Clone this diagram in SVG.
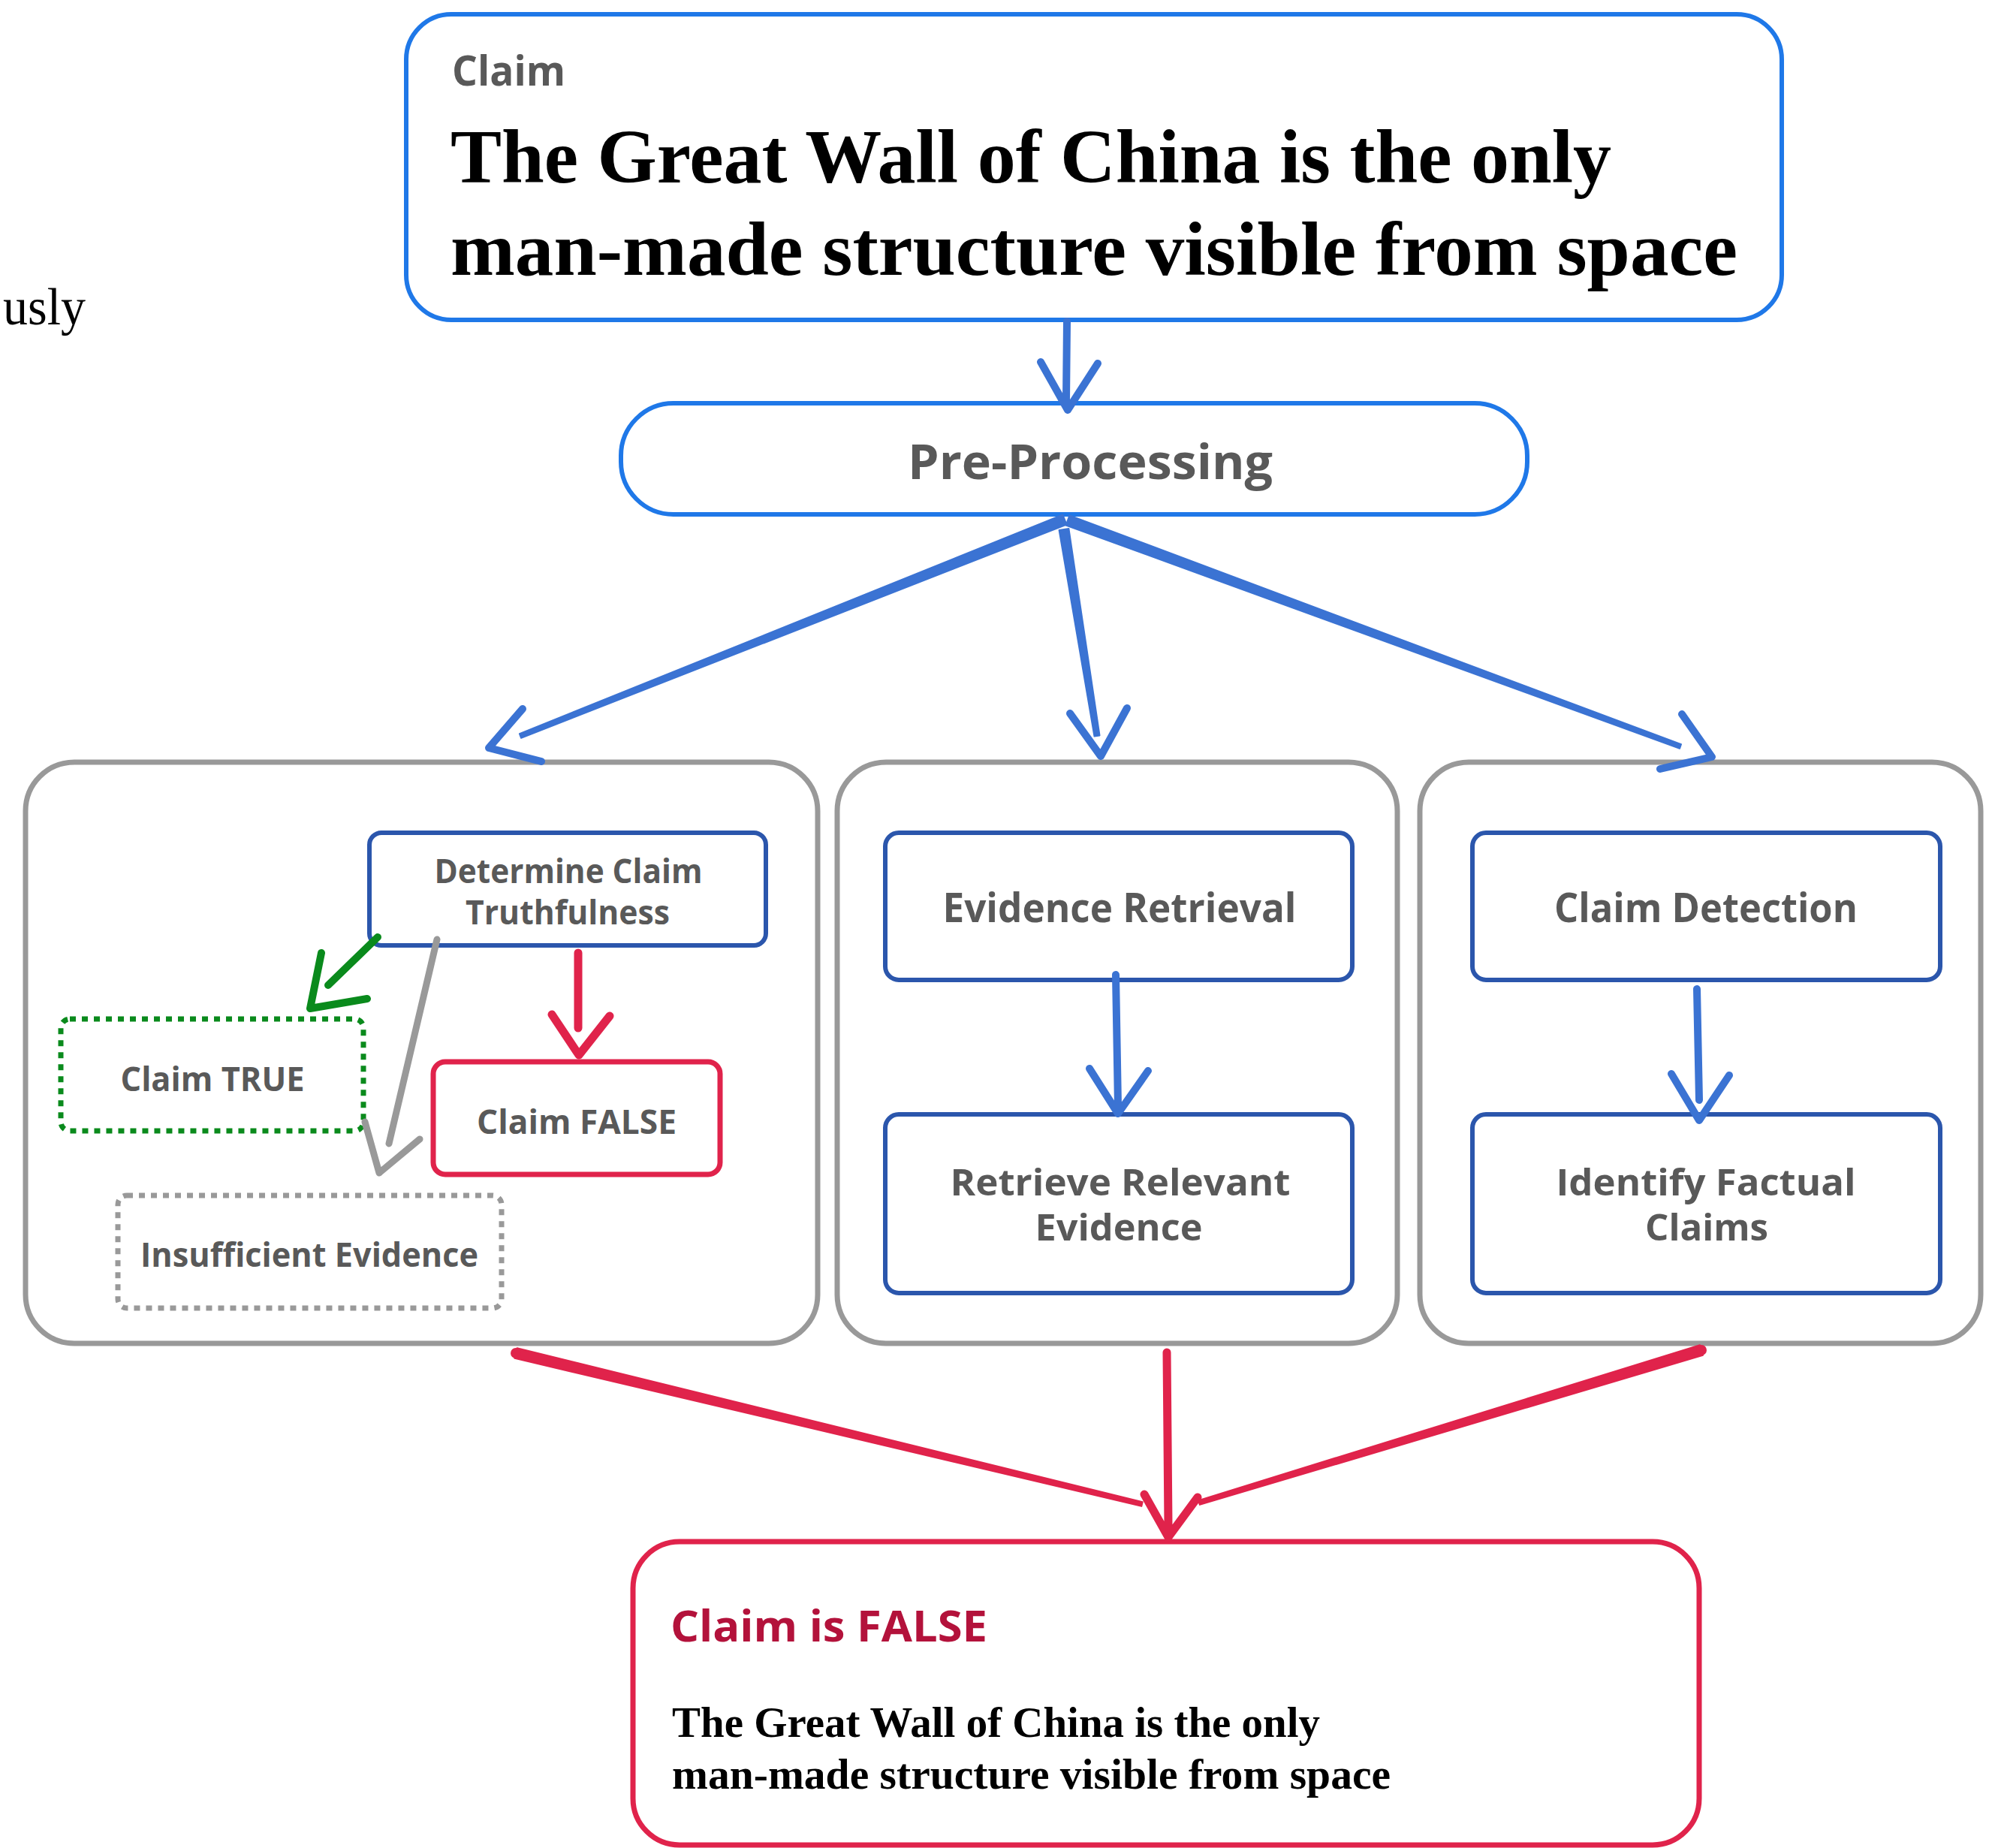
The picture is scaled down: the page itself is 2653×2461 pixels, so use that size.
<svg xmlns="http://www.w3.org/2000/svg" width="2653" height="2461" viewBox="0 0 2653 2461">
<style>
.sans{font-family:"Open Sans","Noto Sans","Liberation Sans",sans-serif;font-weight:700;fill:#595959}
.serif{font-family:"Liberation Serif","DejaVu Serif",serif;font-weight:700;fill:#000}
.grp{fill:#fff;stroke:#999;stroke-width:7}
.inner{fill:#fff;stroke:#2b56ac;stroke-width:6}
.blue{fill:none;stroke:#3b73d3;stroke-width:10;stroke-linecap:round;stroke-linejoin:round}
.bluef{fill:#3b73d3;stroke:#3b73d3;stroke-width:2;stroke-linejoin:round}
.red{fill:none;stroke:#e0234b;stroke-width:11;stroke-linecap:round;stroke-linejoin:round}
.redf{fill:#e0234b;stroke:#e0234b;stroke-width:2;stroke-linejoin:round}
.green{fill:none;stroke:#0a8a1c;stroke-width:10;stroke-linecap:round;stroke-linejoin:round}
.gray{fill:none;stroke:#999;stroke-width:9;stroke-linecap:round;stroke-linejoin:round}
</style>
<rect width="2653" height="2461" fill="#fff"/>
<text x="4" y="432" font-family="Liberation Serif,serif" font-size="70" textLength="110" lengthAdjust="spacingAndGlyphs" fill="#000">usly</text>

<g id="claim">
<rect x="541" y="19" width="1832" height="407" rx="60" fill="#fff" stroke="#1f78e8" stroke-width="6"/>
<text class="sans" x="602" y="114" font-size="56" textLength="151" lengthAdjust="spacingAndGlyphs">Claim</text>
<text class="serif" x="600" y="243" font-size="101" textLength="1546" lengthAdjust="spacingAndGlyphs">The Great Wall of China is the only</text>
<text class="serif" x="600" y="366" font-size="101" textLength="1714" lengthAdjust="spacingAndGlyphs">man-made structure visible from space</text>
</g>

<g id="preprocessing">
<rect x="827" y="537" width="1207" height="148" rx="70" fill="#fff" stroke="#1f78e8" stroke-width="6"/>
<text class="sans" x="1452" y="638" font-size="64" text-anchor="middle" textLength="486" lengthAdjust="spacingAndGlyphs">Pre-Processing</text>
</g>

<g id="group-verdict">
<rect class="grp" x="34" y="1015" width="1055" height="774" rx="65"/>
</g>
<g id="group-evidence">
<rect class="grp" x="1115" y="1015" width="746" height="774" rx="65"/>
</g>
<g id="group-detection">
<rect class="grp" x="1891" y="1015" width="747" height="774" rx="65"/>
</g>

<g id="determine">
<rect class="inner" x="492" y="1109" width="528" height="150" rx="16"/>
<text class="sans" x="757" y="1176" font-size="45" text-anchor="middle" textLength="357" lengthAdjust="spacingAndGlyphs">Determine Claim</text>
<text class="sans" x="756" y="1231" font-size="45" text-anchor="middle" textLength="272" lengthAdjust="spacingAndGlyphs">Truthfulness</text>
</g>
<g id="claim-true">
<rect x="81" y="1357" width="403" height="149" rx="12" fill="#fff" stroke="#0a8a1c" stroke-width="7" stroke-dasharray="8 8"/>
<text class="sans" x="283" y="1453" font-size="45" text-anchor="middle" textLength="245" lengthAdjust="spacingAndGlyphs">Claim TRUE</text>
</g>
<g id="claim-false">
<rect x="577" y="1414" width="382" height="150" rx="16" fill="#fff" stroke="#e0234b" stroke-width="7"/>
<text class="sans" x="768" y="1510" font-size="45" text-anchor="middle" textLength="266" lengthAdjust="spacingAndGlyphs">Claim FALSE</text>
</g>
<g id="insufficient">
<rect x="157" y="1592" width="511" height="150" rx="12" fill="#fff" stroke="#999" stroke-width="7" stroke-dasharray="8 8"/>
<text class="sans" x="412" y="1687" font-size="45" text-anchor="middle" textLength="450" lengthAdjust="spacingAndGlyphs">Insufficient Evidence</text>
</g>

<g id="evidence-retrieval">
<rect class="inner" x="1179" y="1109" width="622" height="196" rx="18"/>
<text class="sans" x="1491" y="1228" font-size="53" text-anchor="middle" textLength="471" lengthAdjust="spacingAndGlyphs">Evidence Retrieval</text>
</g>
<g id="retrieve-relevant">
<rect class="inner" x="1179" y="1484" width="622" height="238" rx="18"/>
<text class="sans" x="1492" y="1592" font-size="49" text-anchor="middle" textLength="453" lengthAdjust="spacingAndGlyphs">Retrieve Relevant</text>
<text class="sans" x="1490" y="1652" font-size="49" text-anchor="middle" textLength="223" lengthAdjust="spacingAndGlyphs">Evidence</text>
</g>
<g id="claim-detection">
<rect class="inner" x="1961" y="1109" width="623" height="196" rx="18"/>
<text class="sans" x="2272" y="1228" font-size="53" text-anchor="middle" textLength="404" lengthAdjust="spacingAndGlyphs">Claim Detection</text>
</g>
<g id="identify-factual">
<rect class="inner" x="1961" y="1484" width="623" height="238" rx="18"/>
<text class="sans" x="2272" y="1592" font-size="49" text-anchor="middle" textLength="399" lengthAdjust="spacingAndGlyphs">Identify Factual</text>
<text class="sans" x="2273" y="1652" font-size="49" text-anchor="middle" textLength="164" lengthAdjust="spacingAndGlyphs">Claims</text>
</g>

<g id="result">
<rect x="843" y="2053" width="1420" height="404" rx="62" fill="#fff" stroke="#e0234b" stroke-width="7"/>
<text x="893" y="2186" font-family="Open Sans,Noto Sans,Liberation Sans,sans-serif" font-weight="700" font-size="58" fill="#b3123b" textLength="422" lengthAdjust="spacingAndGlyphs">Claim is FALSE</text>
<text class="serif" x="895" y="2313" font-size="56" textLength="863" lengthAdjust="spacingAndGlyphs">The Great Wall of China is the only</text>
<text class="serif" x="895" y="2382" font-size="56" textLength="957" lengthAdjust="spacingAndGlyphs">man-made structure visible from space</text>
</g>

<g id="connectors">
<path class="blue" stroke-width="11" d="M1421,428 L1420,535 M1386,482 L1422,546 L1462,484"/>
<polygon class="bluef" points="1415.4,685.5 691.9,977.2 694.1,982.8 1420.6,698.5"/>
<path class="blue" d="M696,944 L651,996 L721,1014"/>
<polygon class="bluef" points="1410.6,706.0 1457.5,980.6 1464.5,979.4 1423.4,704.0"/>
<path class="blue" d="M1425,950 L1466,1007 L1501,943"/>
<polygon class="bluef" points="1419.6,699.6 2237.0,996.8 2239.0,991.2 1424.4,686.4"/>
<path class="blue" d="M2240,951 L2280,1008 L2211,1024"/>
<path class="blue" d="M1486,1298 L1489,1473 M1451,1423 L1489,1483 L1529,1426"/>
<path class="blue" d="M2260,1317 L2263,1465 M2226,1430 L2263,1492 L2303,1432"/>
<path class="green" d="M503,1248 L437,1312 M428,1269 L413,1343 L489,1330"/>
<path class="gray" d="M582,1251 L518,1523 M486,1494 L505,1562 L559,1517"/>
<path class="red" d="M770,1269 L770,1369 M735,1351 L771,1405 L812,1353"/>
<polygon class="redf" points="685.4,1808.8 1520.3,2005.9 1521.7,2000.1 688.6,1795.2"/>
<circle cx="687" cy="1802" r="7" fill="#e0234b"/>
<path class="red" stroke-width="12" d="M1554,1801 L1556,2032 M1524,1990 L1556,2047 L1595,1994"/>
<polygon class="redf" points="2264.0,1791.3 1596.1,1998.1 1597.9,2003.9 2268.0,1804.7"/>
<circle cx="2266" cy="1798" r="7" fill="#e0234b"/>
</g>
</svg>
